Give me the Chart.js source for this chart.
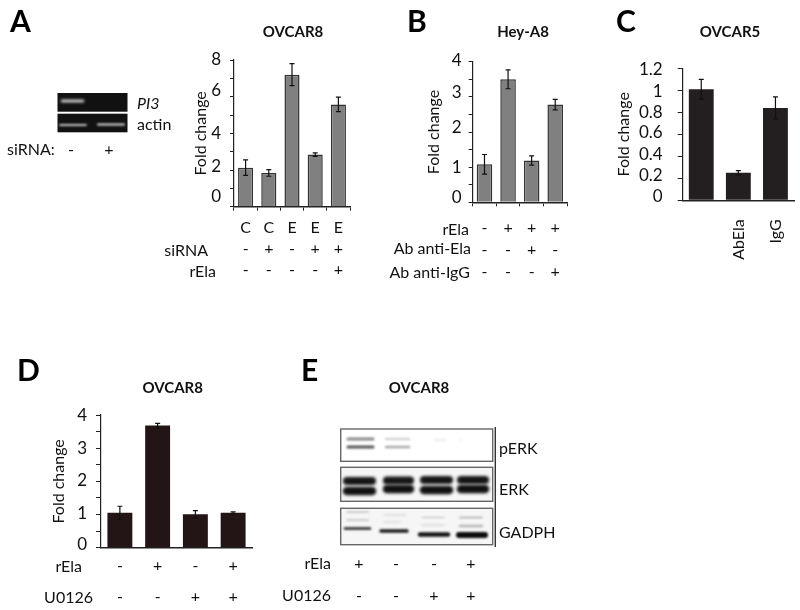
<!DOCTYPE html>
<html>
<head>
<meta charset="utf-8">
<title>Fold change panels</title>
<script src="https://cdn.jsdelivr.net/npm/chart.js@4"></script>
<style>
  body { margin: 0; background: #fff; width: 800px; height: 610px; position: relative; overflow: hidden; font-family: Lato, sans-serif; color: #111; }
  canvas { position: absolute; }
  .t { position: absolute; white-space: nowrap; font-size: 16px; line-height: 1; transform: translateY(-50%); }
  .t.c { transform: translate(-50%, -50%); }
  .t.r { transform: translate(-100%, -50%); }
  .title { font-weight: 700; font-size: 15px; color: #111; }
  .letter { font-weight: 700; font-size: 30px; color: #000; }
</style>
</head>
<body>
<canvas id="blots" width="800" height="610" style="left:0;top:0"></canvas>
<canvas id="chartA"></canvas>
<canvas id="chartB"></canvas>
<canvas id="chartC"></canvas>
<canvas id="chartD"></canvas>
<script>
// panel A
const catsA = ['C', 'C', 'E', 'E', 'E'];
const siRNA_A = ['-', '+', '-', '+', '+'];
const rElaA = ['-', '-', '-', '-', '+'];
const valuesA = [2.13, 1.84, 7.2, 2.84, 5.58];
const errorsA = [0.42, 0.18, 0.6, 0.1, 0.4];
const majorA = [0, 2, 4, 6, 8];

// panel B
const rElaB = ['-', '+', '+', '+'];
const antiElaB = ['-', '-', '+', '-'];
const antiIgGB = ['-', '-', '-', '+'];
const valuesB = [1.08, 3.5, 1.19, 2.78];
const errorsB = [0.28, 0.27, 0.13, 0.15];
const majorB = [0, 1, 2, 3, 4];

// panel C
const catsC = ['', 'AbEla', 'IgG'];
const valuesC = [1.01, 0.25, 0.84];
const errorsC = [0.09, 0.02, 0.1];
const majorC = [0, 0.2, 0.4, 0.6, 0.8, 1, 1.2];

// panel D
const rElaD = ['-', '+', '-', '+'];
const u0126D = ['-', '-', '+', '+'];
const valuesD = [1.05, 3.68, 1.01, 1.05];
const errorsD = [0.2, 0.07, 0.11, 0.03];
const majorD = [0, 1, 2, 3, 4];

// panel E blot lanes and the small gel
const rElaE = ['+', '-', '-', '+'];
const u0126E = ['-', '-', '+', '+'];
const gelSigns = ['-', '+'];

Chart.defaults.font.family = 'Lato, sans-serif';
Chart.defaults.color = '#111';

const errBars = {
  id: 'errBars',
  afterDatasetsDraw(chart) {
    const c = chart.ctx, ds = chart.data.datasets[0], meta = chart.getDatasetMeta(0), y = chart.scales.y;
    c.save();
    c.strokeStyle = '#111';
    c.lineWidth = 1.2;
    meta.data.forEach((bar, i) => {
      const hi = y.getPixelForValue(ds.data[i] + ds.errors[i]);
      const lo = y.getPixelForValue(ds.data[i] - ds.errors[i]);
      c.beginPath();
      c.moveTo(bar.x, hi); c.lineTo(bar.x, lo);
      c.moveTo(bar.x - 2.5, hi); c.lineTo(bar.x + 2.5, hi);
      c.moveTo(bar.x - 2.5, lo); c.lineTo(bar.x + 2.5, lo);
      c.stroke();
    });
    c.restore();
  }
};

// the y numbers sit a little off their ticks in the figure
const nudgeTicks = {
  id: 'nudgeTicks',
  afterLayout(chart, args, opts) {
    const items = chart.scales.y.getLabelItems();
    items.forEach(item => {
      const shift = opts.shift[item.label];
      if (shift) item.options.translation[1] += shift;
    });
  }
};

function panel(id, p) {
  const cv = document.getElementById(id);
  const [l, t, w, h] = p.box;
  const [x0, y0, x1, y1] = p.area;
  cv.style.left = l + 'px';
  cv.style.top = t + 'px';
  cv.width = w;
  cv.height = h;
  return new Chart(cv, {
    type: 'bar',
    data: {
      labels: p.labels,
      datasets: [{
        data: p.values,
        errors: p.errors,
        backgroundColor: p.fill,
        borderColor: p.edge,
        borderWidth: p.edgeWidth,
        barPercentage: p.barPct,
        categoryPercentage: 1
      }]
    },
    options: {
      responsive: false,
      animation: false,
      layout: { padding: { left: 0, top: y0 - t, right: l + w - x1, bottom: 0 } },
      plugins: {
        legend: { display: false },
        tooltip: { enabled: false },
        nudgeTicks: { shift: p.shift }
      },
      scales: {
        x: {
          afterFit: s => { s.height = t + h - y1; s.paddingLeft = 0; s.paddingRight = 0; },
          border: { color: '#222', width: 1.6 },
          grid: { drawOnChartArea: false, drawTicks: p.xTicks, tickLength: 4, color: '#222' },
          ticks: Object.assign({
            autoSkip: false, maxRotation: 0, minRotation: 0,
            padding: p.xPad, color: '#111',
            font: { size: 16, lineHeight: p.rowGap + 'px' }
          }, p.xExtra || {})
        },
        y: {
          min: 0,
          max: p.max,
          afterFit: s => { s.width = x0 - l; s.paddingTop = 0; s.paddingBottom = 0; },
          border: { color: '#222', width: 1.2 },
          grid: { drawOnChartArea: false, tickLength: p.yTick, color: '#222' },
          title: {
            display: true, text: 'Fold change', color: '#111',
            font: { size: 16 }, padding: { top: p.titlePad, bottom: 0 }
          },
          ticks: {
            count: p.count, precision: 1, autoSkip: false, padding: p.yPad,
            font: { size: 17 },
            callback: v => p.major.includes(v) ? String(v) : ''
          }
        }
      }
    },
    plugins: [errBars, nudgeTicks]
  });
}

panel('chartA', {
  box: [170, 50, 190, 240], area: [234, 60, 350, 206.7],
  labels: catsA.map((c, i) => [c, siRNA_A[i], rElaA[i]]),
  values: valuesA, errors: errorsA, major: majorA, max: 8, count: 9,
  fill: '#808080', edge: '#333', edgeWidth: 1.5, barPct: 0.65,
  xTicks: true, xPad: 7, rowGap: 21, yTick: 4, yPad: 9, titlePad: 21,
  shift: { '8': 0, '6': -6, '4': 0, '2': -4, '0': -10 }
});

panel('chartB', {
  box: [415, 50, 160, 240], area: [472.7, 61.7, 567, 202.3],
  labels: rElaB.map((c, i) => [c, antiElaB[i], antiIgGB[i]]),
  values: valuesB, errors: errorsB, major: majorB, max: 4, count: 9,
  fill: '#808080', edge: '#333', edgeWidth: 1.5, barPct: 0.66,
  xTicks: true, xPad: 11, rowGap: 22, yTick: 4, yPad: 7, titlePad: 9,
  shift: { '4': -1.5, '3': -4, '2': -4, '1': 0, '0': -5 }
});

panel('chartC', {
  box: [605, 58, 195, 215], area: [682.7, 68.3, 794, 200.3],
  labels: catsC,
  values: valuesC, errors: errorsC, major: majorC, max: 1.2, count: 7,
  fill: '#231f20', edge: '#231f20', edgeWidth: 0, barPct: 0.67,
  xTicks: false, xPad: 19, rowGap: 20, yTick: 5, yPad: 15, titlePad: 9,
  xExtra: { maxRotation: 90, minRotation: 90 },
  shift: { '1.2': 1, '1': 1, '0.8': 0, '0.6': -1.5, '0.4': -2, '0.2': -3, '0': -4 }
});

panel('chartD', {
  box: [40, 405, 220, 205], area: [101, 415, 252, 547.7],
  labels: rElaD.map((c, i) => [c, u0126D[i]]),
  values: valuesD, errors: errorsD, major: majorD, max: 4, count: 9,
  fill: '#231416', edge: '#231416', edgeWidth: 0, barPct: 0.66,
  xTicks: false, xPad: 3, rowGap: 31, yTick: 5, yPad: 9, titlePad: 9,
  shift: { '4': 1, '3': 0, '2': -0.5, '1': -1, '0': -3 }
});

// plain text around the charts
function text(str, x, y, cls, extra) {
  const el = document.createElement('div');
  el.className = 't ' + (cls || '');
  el.textContent = str;
  el.style.left = x + 'px';
  el.style.top = y + 'px';
  if (extra) el.style.cssText += extra;
  document.body.appendChild(el);
}

text('A', 10, 20, 'letter');
text('B', 407, 20, 'letter');
text('C', 616, 20, 'letter');
text('D', 17, 369, 'letter');
text('E', 301, 369, 'letter');

text('OVCAR8', 293, 31, 'c title');
text('Hey-A8', 523, 31, 'c title');
text('OVCAR5', 730, 31, 'c title');
text('OVCAR8', 172.7, 387, 'c title');
text('OVCAR8', 419, 387, 'c title');

text('PI3', 137, 103, '', 'font-style:italic;');
text('actin', 137, 124);
text('siRNA:', 7, 149);
gelSigns.forEach((s, i) => text(s, [71, 109][i], 149, 'c'));

text('siRNA', 208, 250, 'r');
text('rEla', 216, 271, 'r');
text('rEla', 469, 229, 'r');
text('Ab anti-Ela', 471, 248, 'r');
text('Ab anti-IgG', 470, 272, 'r');
text('rEla', 82, 566, 'r');
text('U0126', 93, 597, 'r');

text('pERK', 499, 448);
text('ERK', 499, 489);
text('GADPH', 499, 532);
text('rEla', 331, 563, 'r');
text('U0126', 331, 595, 'r');
[359, 396, 434, 471].forEach((x, i) => {
  text(rElaE[i], x, 563, 'c');
  text(u0126E[i], x, 595, 'c');
});

// gel and blot photographs, only rough smudges
const g = document.getElementById('blots').getContext('2d');

function band(x0, x1, y, thick, col, blur) {
  g.save();
  g.filter = 'blur(' + blur + 'px)';
  g.strokeStyle = col;
  g.lineWidth = thick;
  g.lineCap = 'round';
  g.beginPath();
  g.moveTo(x0, y);
  g.lineTo(x1, y);
  g.stroke();
  g.restore();
}

g.fillStyle = '#111';
g.fillRect(57.5, 93, 70, 18.7);
g.fillRect(57.5, 113.7, 70, 18.6);
band(62, 83, 101, 2.5, '#f2f2f2', 1.6);
band(60, 86, 125, 1.8, '#c8c8c8', 1.3);
band(98, 124, 124.5, 2, '#e0e0e0', 1.2);

g.fillStyle = '#f6f6f6';
g.fillRect(340.7, 467.3, 152, 34);
g.fillRect(340.7, 508.3, 152, 36.4);

// pERK
band(348, 373, 439, 3, '#8a8a8a', 1.3);
band(348, 373, 447, 3, '#555', 1.2);
band(386, 409, 439, 2.5, '#d2d2d2', 1.2);
band(386, 409, 447, 2.5, '#a8a8a8', 1.2);
band(435, 446, 440, 1, '#ddd', 0.8);
band(460, 462, 440, 1, '#e2e2e2', 0.8);

// ERK
[[347, 372, 481, 491], [387, 410, 480.5, 489], [424, 449, 480, 490], [461, 485, 480, 489]].forEach(l => {
  band(l[0], l[1], l[2], 8, '#151515', 1.6);
  band(l[0], l[1], l[3], 8.5, '#111', 1.6);
});

// GADPH
band(345, 370, 528.5, 2.6, '#222', 1);
band(381, 407, 531, 3.5, '#1c1c1c', 1.1);
band(420, 448, 534.5, 4.5, '#151515', 1.2);
band(459, 485, 535, 6, '#0d0d0d', 1.3);
band(347, 368, 512, 1.4, '#bbb', 1.1);
band(347, 368, 520, 2, '#ccc', 1.2);
band(384, 406, 515, 1, '#c8c8c8', 1);
band(384, 400, 522, 1, '#ccc', 1);
band(422, 444, 517.5, 1.2, '#bbb', 1);
band(422, 444, 525, 1.2, '#c8c8c8', 1);
band(460, 482, 517.5, 1.6, '#aaa', 1);
band(460, 482, 526, 2.5, '#b4b4b4', 1.2);

g.strokeStyle = '#666';
g.lineWidth = 1.4;
g.strokeRect(340.7, 429, 152, 32.3);
g.strokeRect(340.7, 467.3, 152, 34);
g.strokeRect(340.7, 508.3, 152, 36.4);
g.strokeStyle = '#333';
g.beginPath();
g.moveTo(495.3, 427);
g.lineTo(495.3, 547);
g.stroke();
</script>
</body>
</html>
